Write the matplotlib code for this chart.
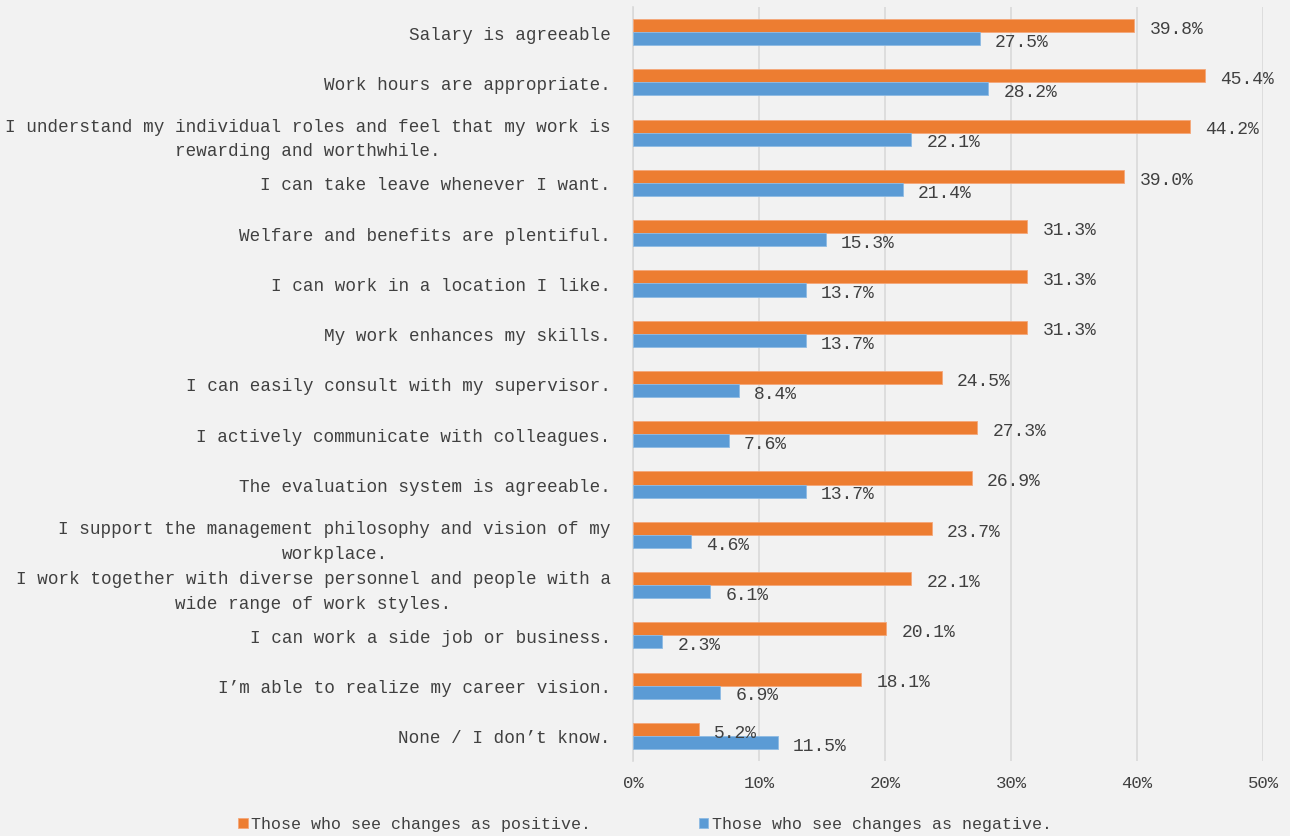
import numpy as np
import matplotlib.pyplot as plt

# categories (top to bottom as in the chart)
categories = [
    "Salary is agreeable",
    "Work hours are appropriate.",
    "I understand my individual roles and feel that my work is\nrewarding and worthwhile.",
    "I can take leave whenever I want.",
    "Welfare and benefits are plentiful.",
    "I can work in a location I like.",
    "My work enhances my skills.",
    "I can easily consult with my supervisor.",
    "I actively communicate with colleagues.",
    "The evaluation system is agreeable.",
    "I support the management philosophy and vision of my\nworkplace.",
    "I work together with diverse personnel and people with a\nwide range of work styles.",
    "I can work a side job or business.",
    "I’m able to realize my career vision.",
    "None / I don’t know.",
]
positive = [39.8, 45.4, 44.2, 39.0, 31.3, 31.3, 31.3, 24.5, 27.3, 26.9, 23.7, 22.1, 20.1, 18.1, 5.2]
negative = [27.5, 28.2, 22.1, 21.4, 15.3, 13.7, 13.7, 8.4, 7.6, 13.7, 4.6, 6.1, 2.3, 6.9, 11.5]
series_names = ["Those who see changes as positive.", "Those who see changes as negative."]

orange = "#ED7D31"
blue = "#5B9BD5"
txt = "#404040"
bg = "#F2F2F2"

plt.rcParams["font.family"] = ["Liberation Mono", "DejaVu Sans Mono"]

fig = plt.figure(figsize=(12.9, 8.37), dpi=100, facecolor=bg)
ax = fig.add_axes([633 / 1290, 1 - 762 / 837, 630 / 1290, 754 / 837])
ax.set_facecolor(bg)

y = np.arange(len(categories))
h = 0.26
b1 = ax.barh(y - h / 2, positive, height=h, color=orange, edgecolor="#F4A77A", linewidth=0.6,
             label=series_names[0], zorder=3)
b2 = ax.barh(y + h / 2, negative, height=h, color=blue, edgecolor="#8DBBE4", linewidth=0.6,
             label=series_names[1], zorder=3)

for bars, vals in [(b1, positive), (b2, negative)]:
    for bar, v in zip(bars, vals):
        ax.annotate(f"{v:.1f}%", (v, bar.get_y() + bar.get_height() / 2),
                    xytext=(11, -2), textcoords="offset points", ha="left", va="center",
                    fontsize=13, color=txt, zorder=4)

ax.set_ylim(len(categories) - 0.5, -0.5)
ax.set_xlim(0, 50)
ax.set_xticks(np.arange(0, 51, 10))
ax.set_xticklabels([f"{t}%" for t in range(0, 51, 10)])
ax.set_yticks(y)
ax.set_yticklabels(categories, multialignment="center", linespacing=1.6)

ax.grid(axis="x", color="#D9D9D9", linewidth=1.2, zorder=0)
for s in ["top", "right", "bottom"]:
    ax.spines[s].set_visible(False)
ax.spines["left"].set_color("#D9D9D9")
ax.spines["left"].set_linewidth(1.2)
ax.tick_params(axis="both", length=0, colors=txt, labelsize=12.7)
ax.tick_params(axis="y", pad=16)
ax.tick_params(axis="x", pad=10, labelsize=12.5)

fig.legend(handles=[b1, b2], loc="center", bbox_to_anchor=(0.5, 1 - 825 / 837), ncol=2,
           frameon=False, handlelength=0.55, handleheight=0.55, handletextpad=0.2,
           columnspacing=6.5, prop={"size": 12}, labelcolor=txt)

fig.savefig("out.png", dpi=100, facecolor=bg)
